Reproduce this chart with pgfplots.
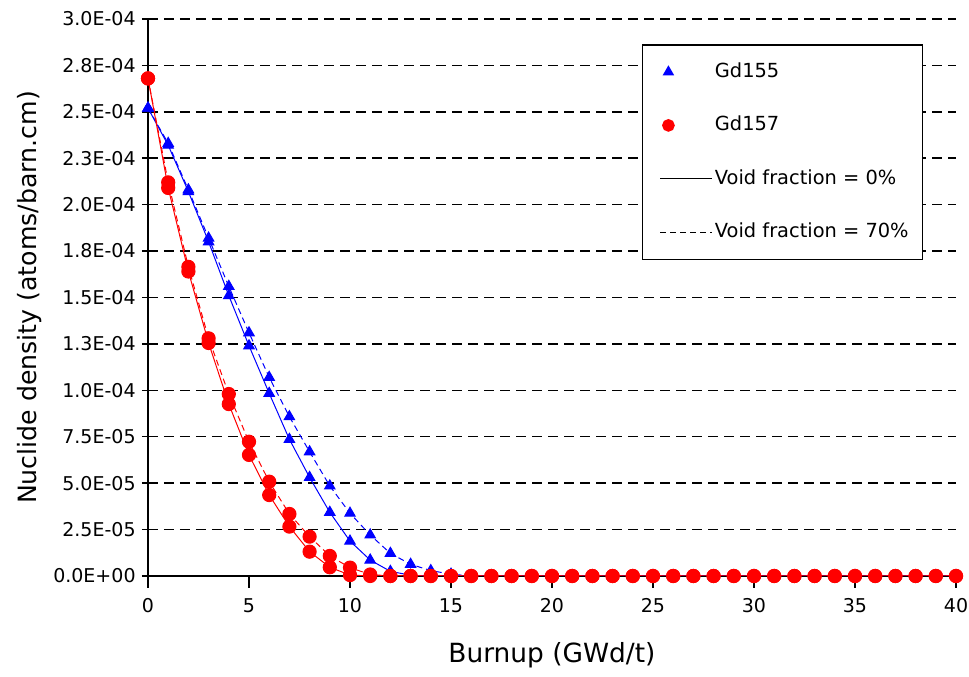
\documentclass[border=0pt]{standalone}
\usepackage{fontspec}
\setmainfont{DejaVu Sans}
\usepackage{pgfplots}
\usepackage{pgfplotstable}
\pgfplotsset{compat=1.18}
\definecolor{gdblue}{RGB}{0,0,255}
\definecolor{gdred}{RGB}{255,0,0}
\pgfplotsset{
  markleg/.style={legend image code/.code={\path[draw=none] (0pt,0pt) -- (28pt,0pt); \draw[##1] plot coordinates {(6pt,0pt)};}},
  lineleg/.style={legend image code/.code={\path[draw=none] (0pt,0pt) -- (2pt,0pt); \draw[##1] (2pt,0pt) -- (28pt,0pt);}},
}

% columns: burnup, Gd155 (0%), Gd155 (70%), Gd157 (0%), Gd157 (70%)
\pgfplotstableread{
x  a155     b155     a157     b157
0  2.52e-4  2.52e-4  2.68e-4  2.68e-4
1  2.32e-4  2.33e-4  2.09e-4  2.12e-4
2  2.07e-4  2.08e-4  1.64e-4  1.665e-4
3  1.80e-4  1.82e-4  1.255e-4 1.28e-4
4  1.51e-4  1.56e-4  9.26e-5  9.8e-5
5  1.24e-4  1.31e-4  6.52e-5  7.23e-5
6  9.84e-5  1.07e-4  4.36e-5  5.08e-5
7  7.36e-5  8.58e-5  2.66e-5  3.34e-5
8  5.31e-5  6.69e-5  1.31e-5  2.12e-5
9  3.43e-5  4.85e-5  4.7e-6   1.08e-5
10 1.88e-5  3.38e-5  5e-7     4.5e-6
11 8.6e-6   2.21e-5  0        8e-7
12 2.5e-6   1.22e-5  0        0
13 4e-7     6.3e-6   0        0
14 0        2.9e-6   0        0
15 0        1.0e-6   0        0
16 0        0        0        0
17 0        0        0        0
18 0        0        0        0
19 0        0        0        0
20 0        0        0        0
21 0        0        0        0
22 0        0        0        0
23 0        0        0        0
24 0        0        0        0
25 0        0        0        0
26 0        0        0        0
27 0        0        0        0
28 0        0        0        0
29 0        0        0        0
30 0        0        0        0
31 0        0        0        0
32 0        0        0        0
33 0        0        0        0
34 0        0        0        0
35 0        0        0        0
36 0        0        0        0
37 0        0        0        0
38 0        0        0        0
39 0        0        0        0
40 0        0        0        0
}\gddata

\begin{document}
\begin{tikzpicture}
\begin{axis}[
  scale only axis, width=404pt, height=278.5pt,
  xmin=0, xmax=40, ymin=0, ymax=3.0e-4,
  axis x line=bottom, axis y line=left, axis line style={-, line width=0.75pt},
  xtick={0,5,...,40},
  ytick={0,2.5e-5,5e-5,7.5e-5,1e-4,1.25e-4,1.5e-4,1.75e-4,2e-4,2.25e-4,2.5e-4,2.75e-4,3e-4},
  yticklabels={0.0E+00,2.5E-05,5.0E-05,7.5E-05,1.0E-04,1.3E-04,1.5E-04,1.8E-04,2.0E-04,2.3E-04,2.5E-04,2.8E-04,3.0E-04},
  scaled y ticks=false,
  /pgf/number format/assume math mode=true,
  ticklabel style={font=\fontsize{9.5}{11}\selectfont, inner sep=0pt},
  xtick style={black, line width=0.75pt}, ytick style={black, line width=0.75pt},
  xtick align=outside, ytick align=center,
  x tick label style={anchor=north, yshift=-5pt},
  y tick label style={anchor=east, xshift=-3pt},
  major tick length=6pt,
  ymajorgrids, grid style={black, line width=0.75pt, dash pattern=on 5pt off 3pt},
  xlabel={Burnup (GWd/t)}, ylabel={Nuclide density (atoms/barn.cm)},
  xlabel style={font=\fontsize{13.2}{15}\selectfont, at={(axis description cs:0.5,0)}, anchor=center, yshift=-39.5pt},
  ylabel style={font=\fontsize{12.6}{15}\selectfont, at={(axis description cs:0,0.5)}, anchor=center, yshift=59pt},
  legend cell align=left,
  lineleg,
  legend style={at={(0.611,0.955)}, anchor=north west, draw=black, line width=0.75pt,
    font=\fontsize{9.7}{11}\selectfont, row sep=17.5pt, column sep=1pt,
    inner xsep=7pt, inner ysep=9pt,
    nodes={inner sep=0pt, text height=7.2pt, text depth=2pt}},
]
\addlegendimage{only marks, mark=triangle*, color=gdblue, mark size=2.6pt, markleg}
\addlegendentry{Gd155}
\addlegendimage{only marks, mark=*, color=gdred, mark size=2.8pt, markleg}
\addlegendentry{Gd157}
\addlegendimage{black, line width=0.5pt}
\addlegendentry{Void fraction = 0\%}
\addlegendimage{black, line width=0.5pt, dash pattern=on 3pt off 2pt}
\addlegendentry{Void fraction = 70\%}

\addplot[forget plot, gdblue, line width=0.5pt, dash pattern=on 3pt off 2pt, mark=triangle*, mark size=3pt, mark options={solid}] table[x=x, y=b155] {\gddata};
\addplot[forget plot, gdblue, line width=0.5pt, mark=triangle*, mark size=3pt] table[x=x, y=a155] {\gddata};
\addplot[forget plot, gdred, line width=0.5pt, dash pattern=on 3pt off 2pt, mark=*, mark size=3.3pt, mark options={solid}] table[x=x, y=b157] {\gddata};
\addplot[forget plot, gdred, line width=0.5pt, mark=*, mark size=3.3pt] table[x=x, y=a157] {\gddata};
\end{axis}
\path (current axis.south west) ++(-74pt,-50.5pt);
\path (current axis.north east) ++(6.5pt,9.5pt);
\end{tikzpicture}
\end{document}
